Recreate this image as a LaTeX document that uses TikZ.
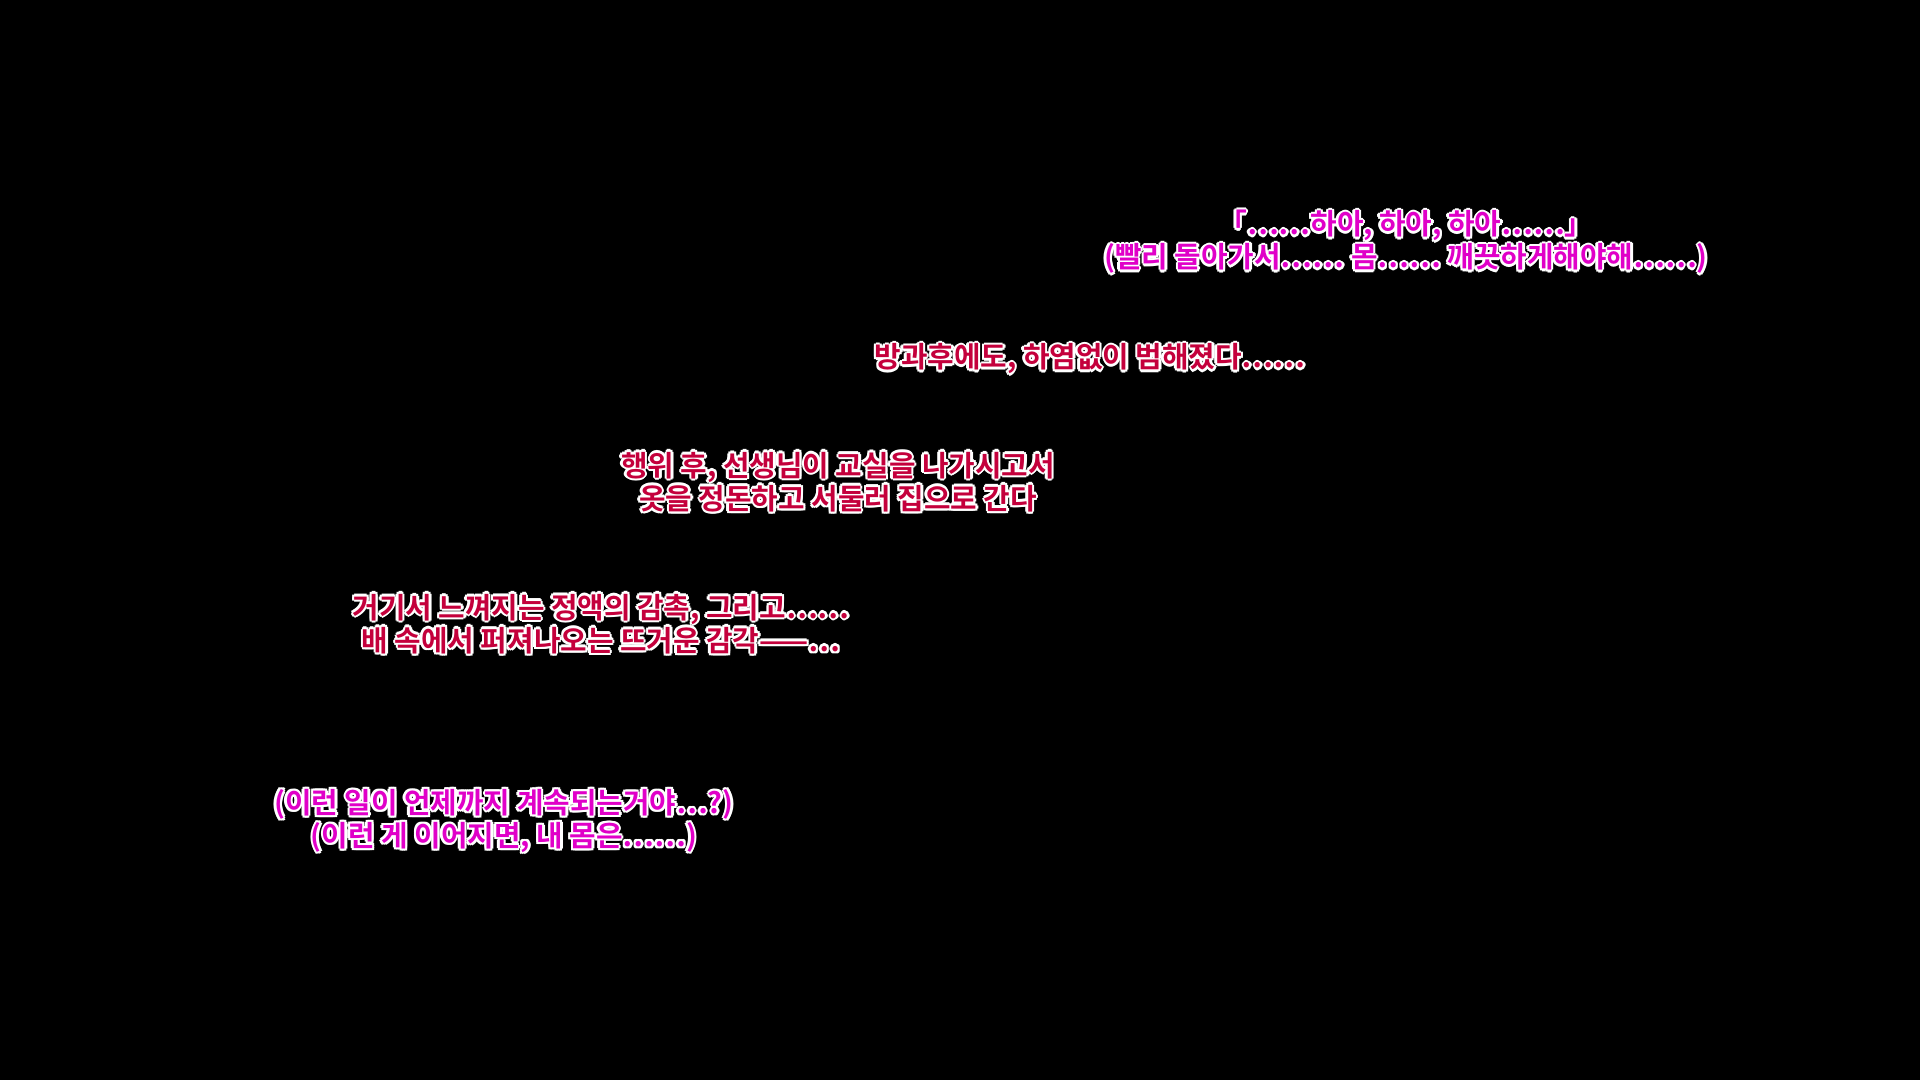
\documentclass[tikz,border=0pt]{standalone}
\usepackage{fontspec}
\newfontfamily\krfont{Noto Sans CJK KR}[BoldFont={Noto Sans CJK KR Bold}]
\usepackage{tikz}
\definecolor{pinkline}{HTML}{E000C8}
\definecolor{redline}{HTML}{C4003C}
\tikzset{
  caption/.style={align=center, inner sep=0pt, font=\krfont\bfseries\fontsize{8.2}{9.4}\selectfont}
}
% outlined caption: white halo, coloured text on top
\newcommand{\halotext}[4]{%
  \foreach \dx/\dy in {1/0,-1/0,0/1,0/-1,0.7/0.7,-0.7/0.7,0.7/-0.7,-0.7/-0.7}
    \node[caption, white] at ([xshift=\dx*0.7pt, yshift=\dy*0.7pt]#2) {#4};
  \node[caption, text=#3] (#1) at (#2) {#4};
}
\begin{document}
\begin{tikzpicture}[x=0.01cm, y=-0.01cm]
\fill[black] (0,0) rectangle (1920,1080);
\coordinate (pA) at (1406,242);
\coordinate (pB) at (1090,359);
\coordinate (pC) at (838,482);
\coordinate (pD) at (601,624);
\coordinate (pE) at (504,821);
\halotext{breath}{pA}{pinkline}{「……하아, 하아, 하아……」\\(빨리 돌아가서…… 몸…… 깨끗하게해야해……)}
\halotext{after}{pB}{redline}{방과후에도, 하염없이 범해졌다……}
\halotext{home}{pC}{redline}{행위 후, 선생님이 교실을 나가시고서\\옷을 정돈하고 서둘러 집으로 간다}
\halotext{feel}{pD}{redline}{거기서 느껴지는 정액의 감촉, 그리고……\\배 속에서 퍼져나오는 뜨거운 감각——…}
\halotext{worry}{pE}{pinkline}{(이런 일이 언제까지 계속되는거야…?)\\(이런 게 이어지면, 내 몸은……)}
\end{tikzpicture}
\end{document}
